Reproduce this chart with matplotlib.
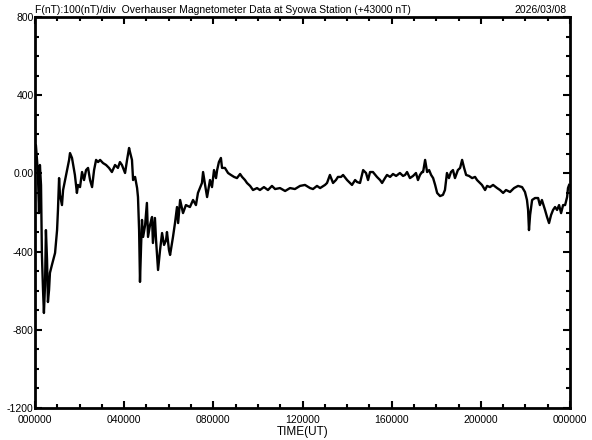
import numpy as np
import matplotlib
matplotlib.use('Agg')
import matplotlib.pyplot as plt
from matplotlib.ticker import FixedLocator, MultipleLocator

# 時間 (UT, 小時) 與 F 值 (nT, 相對 43000 nT)
hours = [0.00, 0.04, 0.09, 0.13, 0.18, 0.22, 0.27, 0.31, 0.36, 0.40, 0.45, 0.49, 0.54, 0.58, 0.63,
         0.67, 0.76, 0.90, 0.99, 1.03, 1.08, 1.12, 1.21, 1.26, 1.35, 1.44, 1.53, 1.57, 1.66, 1.70,
         1.79, 1.88, 1.93, 2.02, 2.11, 2.20, 2.29, 2.38, 2.47, 2.56, 2.65, 2.74, 2.83, 2.92, 3.05,
         3.19, 3.32, 3.45, 3.59, 3.72, 3.81, 3.90, 4.04, 4.13, 4.22, 4.26, 4.35, 4.40, 4.49, 4.58,
         4.62, 4.67, 4.71, 4.76, 4.80, 4.85, 4.94, 5.02, 5.07, 5.16, 5.25, 5.29, 5.38, 5.43, 5.52,
         5.61, 5.70, 5.79, 5.88, 5.92, 6.01, 6.06, 6.19, 6.28, 6.37, 6.42, 6.51, 6.64, 6.77, 6.95,
         7.09, 7.22, 7.31, 7.40, 7.49, 7.54, 7.63, 7.72, 7.85, 7.94, 8.03, 8.12, 8.17, 8.25, 8.34,
         8.39, 8.52, 8.66, 8.79, 8.93, 9.06, 9.20, 9.29, 9.42, 9.51, 9.65, 9.78, 9.96, 10.09, 10.27,
         10.45, 10.63, 10.77, 10.99, 11.22, 11.44, 11.66, 11.89, 12.11, 12.34, 12.47, 12.65, 12.79, 13.01, 13.10,
         13.23, 13.37, 13.50, 13.59, 13.73, 13.82, 14.00, 14.13, 14.22, 14.36, 14.45, 14.58, 14.72, 14.85, 14.94,
         15.03, 15.16, 15.34, 15.48, 15.57, 15.70, 15.79, 15.93, 16.06, 16.20, 16.37, 16.51, 16.60, 16.69, 16.82,
         16.96, 17.09, 17.18, 17.27, 17.36, 17.41, 17.50, 17.59, 17.68, 17.77, 17.86, 17.95, 18.04, 18.17, 18.30,
         18.39, 18.48, 18.57, 18.66, 18.75, 18.84, 18.97, 19.07, 19.16, 19.25, 19.34, 19.47, 19.61, 19.74, 19.83,
         19.96, 20.05, 20.19, 20.28, 20.41, 20.55, 20.73, 20.86, 21.00, 21.13, 21.31, 21.49, 21.67, 21.85, 21.98,
         22.07, 22.12, 22.16, 22.21, 22.30, 22.43, 22.57, 22.65, 22.74, 22.88, 22.97, 23.06, 23.15, 23.24, 23.33,
         23.42, 23.51, 23.60, 23.69, 23.78, 23.87, 23.91, 23.96]
f_nt = [135, 145, 69, 0, -203, 43, -60, -417, -596, -714, -571, -290, -443, -658, -596,
        -509, -468, -407, -290, -187, -24, -110, -162, -85, -34, 17, 69, 104, 79, 53,
        -8, -100, -59, -70, 7, -34, 17, 28, -34, -70, 17, 69, 58, 69, 53,
        43, 28, 7, 43, 28, 58, 43, 2, 69, 130, 110, 69, -34, -18, -75,
        -121, -290, -555, -366, -238, -325, -264, -151, -325, -264, -223, -356, -228, -341, -494,
        -392, -305, -366, -341, -300, -392, -417, -325, -254, -172, -254, -136, -203, -162, -172,
        -136, -162, -100, -75, -49, 7, -59, -121, -34, -70, 17, -24, 17, 58, 79,
        28, 28, 2, -8, -18, -24, -3, -18, -34, -49, -64, -85, -75, -85, -70,
        -85, -64, -80, -75, -90, -75, -80, -64, -59, -75, -80, -64, -75, -59, -49,
        -8, -49, -34, -18, -18, -8, -34, -49, -59, -34, -44, -49, 17, 2, -34,
        7, 7, -18, -34, -49, -24, -8, -18, -3, -13, 2, -13, -8, 7, -24,
        -13, 2, -34, -8, 7, 7, 69, 7, 17, -8, -24, -59, -100, -116, -110,
        -85, 2, -24, 7, 17, -24, 17, 28, 69, 28, -8, -13, -24, -18, -34,
        -49, -59, -85, -64, -70, -59, -75, -85, -100, -85, -95, -75, -64, -70, -95,
        -136, -187, -290, -213, -136, -126, -126, -162, -136, -187, -223, -254, -213, -187, -172,
        -187, -162, -203, -162, -162, -121, -75, -59]

x_ticks = [0, 4, 8, 12, 16, 20, 24]
x_labels = ['000000', '040000', '080000', '120000', '160000', '200000', '000000']
y_ticks = [-1200, -800, -400, 0, 400, 800]
y_labels = ['-1200', '-800', '-400', '0.00', '400', '800']

plt.rcParams['font.family'] = ['Liberation Sans', 'DejaVu Sans']

fig = plt.figure(figsize=(5.92, 4.40), dpi=100)
ax = fig.add_axes([35 / 592, 32 / 440, 535 / 592, 391 / 440])

ax.plot(hours, f_nt, color='black', linewidth=1.7)

ax.set_xlim(0, 24)
ax.set_ylim(-1200, 800)
ax.xaxis.set_major_locator(FixedLocator(x_ticks))
ax.set_xticklabels(x_labels)
ax.xaxis.set_minor_locator(MultipleLocator(1))
ax.yaxis.set_major_locator(FixedLocator(y_ticks))
ax.set_yticklabels(y_labels)
ax.yaxis.set_minor_locator(MultipleLocator(100))

ax.tick_params(which='both', direction='in', top=True, right=True, width=1.5,
               labelsize=7.5)
ax.tick_params(which='major', length=5)
ax.tick_params(which='minor', length=3)
ax.tick_params(axis='x', pad=5)
ax.tick_params(axis='y', pad=1)
for lbl in ax.get_yticklabels():
    lbl.set_verticalalignment('center_baseline')
for s in ax.spines.values():
    s.set_linewidth(2)

ax.set_xlabel('TIME(UT)', fontsize=8.5, labelpad=1)

fig.text(35 / 592, 1 - 10 / 440, 'F(nT):100(nT)/div  Overhauser Magnetometer Data at Syowa Station (+43000 nT)',
         fontsize=7.5, ha='left', va='center')
fig.text(567 / 592, 1 - 10 / 440, '2026/03/08', fontsize=7.5, ha='right', va='center')

plt.savefig('out.png', dpi=100)
